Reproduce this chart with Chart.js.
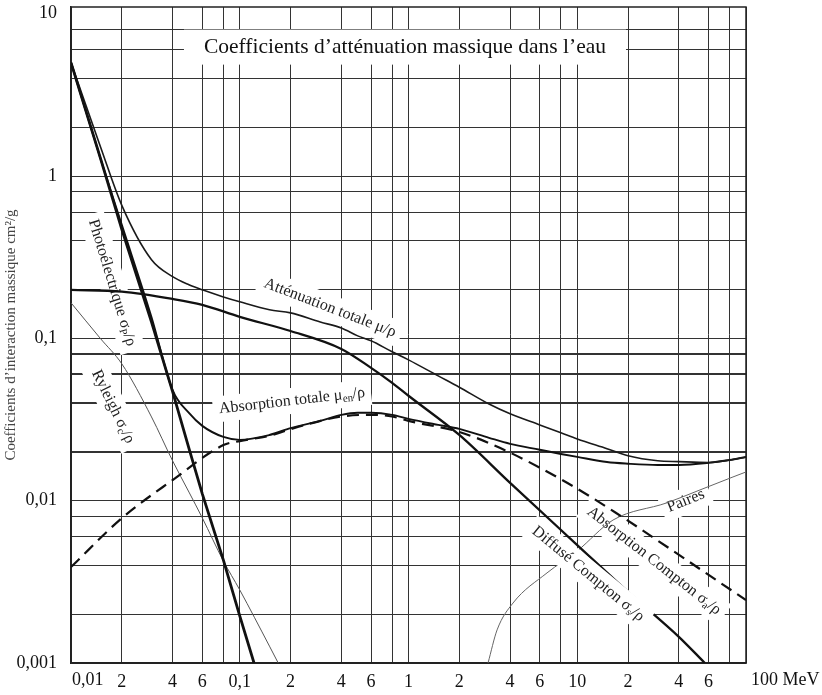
<!DOCTYPE html>
<html>
<head>
<meta charset="utf-8">
<script src="https://cdn.jsdelivr.net/npm/chart.js@4.4.0/dist/chart.umd.min.js"></script>
<style>
  body { margin: 0; background: #fff; }
</style>
</head>
<body>
<canvas id="grafico_eau" width="822" height="695"></canvas>
<script>
// Energies en MeV, coefficients en cm2/g
const ePhoto = [0.01, 0.015, 0.02, 0.03, 0.04, 0.05, 0.06, 0.08, 0.1, 0.1215]
const photo  = [5.0, 1.27, 0.47, 0.126, 0.047, 0.021, 0.011, 0.0043, 0.00195, 0.001]

const eTot = [0.01, 0.015, 0.02, 0.03, 0.04, 0.05, 0.06, 0.08, 0.1, 0.15, 0.2, 0.3, 0.4, 0.5, 0.6, 0.8, 1, 1.5, 2, 3, 4, 6, 8, 10, 15, 20, 30, 40, 60, 80, 100]
const attenuation = [5.0, 1.5, 0.66, 0.305, 0.24, 0.214, 0.199, 0.180, 0.168, 0.150, 0.1436, 0.126, 0.116, 0.1036, 0.0966, 0.0826, 0.0737, 0.0587, 0.050, 0.0394, 0.0343, 0.0293, 0.0262, 0.024, 0.0209, 0.0189, 0.0176, 0.0174, 0.0172, 0.0178, 0.0186]
const absorption  = [5.0, 1.27, 0.5, 0.135, 0.048, 0.0347, 0.0289, 0.0247, 0.0237, 0.0254, 0.028, 0.031, 0.0338, 0.0348, 0.0348, 0.0338, 0.0319, 0.0293, 0.0277, 0.0244, 0.0224, 0.0206, 0.0194, 0.0186, 0.0173, 0.0169, 0.0166, 0.0166, 0.0171, 0.0178, 0.0186]

const eAbsC = [0.01, 0.02, 0.04, 0.08, 0.1, 0.15, 0.2, 0.4, 0.6, 0.8, 1, 2, 3.5, 8.7, 17, 34, 100]
const absCompton = [0.0039, 0.0078, 0.0134, 0.022, 0.0233, 0.0251, 0.0276, 0.033, 0.0338, 0.033, 0.031, 0.0265, 0.0211, 0.0129, 0.0084, 0.0052, 0.00244]

const eDifC = [0.01, 0.02, 0.04, 0.06, 0.1, 0.2, 0.4, 0.6, 0.8, 1, 2, 4, 10, 20, 40, 57]
const difCompton = [0.199, 0.194, 0.175, 0.161, 0.1357, 0.111, 0.0861, 0.0658, 0.0532, 0.0443, 0.0254, 0.01287, 0.00533, 0.00274, 0.00145, 0.001]

const eRay = [0.01, 0.015, 0.02, 0.03, 0.04, 0.05, 0.06, 0.08, 0.1, 0.15, 0.169]
const rayleigh = [0.1656, 0.0993, 0.0697, 0.0328, 0.0176, 0.0113, 0.00783, 0.00425, 0.00282, 0.00127, 0.001]

const ePaires = [2.96, 3.35, 4.16, 6.62, 10, 16.3, 34, 53.3, 83.7, 100]
const paires  = [0.001, 0.0016, 0.00234, 0.00359, 0.0049, 0.0076, 0.0097, 0.01164, 0.014, 0.01503]

// graduations
const xTicks = [0.01, 0.02, 0.04, 0.06, 0.08, 0.1, 0.2, 0.4, 0.6, 0.8, 1, 2, 4, 6, 8, 10, 20, 40, 60, 80, 100]
const yTicks = [0.001, 0.002, 0.004, 0.006, 0.008, 0.01, 0.02, 0.04, 0.06, 0.08, 0.1, 0.2, 0.4, 0.6, 0.8, 1, 2, 4, 6, 8, 10]
const yGras = [0.02, 0.04, 0.06, 0.08]

const titre = 'Coefficients d’atténuation massique dans l’eau'
const titreAxeY = 'Coefficients d’interaction massique cm²/g'

// textes sur les courbes : [texte, energie, coef, angle, par-dessus les courbes]
const etiquettes = [
    ['Atténuation totale μ/ρ', 0.3425, 0.154, 21, false],
    ['Absorption totale μ_{en}/ρ', 0.204, 0.0412, -6.5, false],
    ['Photoélectrique σ_{P}/ρ', 0.0175, 0.22, 73, false],
    ['Ryleigh σ_{c}/ρ', 0.01775, 0.0379, 64, false],
    ['Paires', 44, 0.00997, -22, false],
    ['Absorption Compton σ_{a}/ρ', 28.5, 0.00426, 38, false],
    ['Diffusé Compton σ_{s}/ρ', 11.6, 0.00354, 39.5, true]
]

const police = "'Liberation Serif', 'DejaVu Serif', serif"

function points(xs, ys) {
    return xs.map((x, i) => ({ x: x, y: ys[i] }))
}

function etiquetteLog(v, tout) {
    const exp = Math.floor(Math.log10(v) + 1e-9)
    const m = Math.round(v / Math.pow(10, exp))
    if (m === 1) {
        if (exp < 0) return '0,' + '0'.repeat(-exp - 1) + '1'
        return String(Math.pow(10, exp))
    }
    if (!tout || m === 8) return ''
    return String(m)
}

// texte avec indices  x_{ab}
function texteRiche(ctx, str, taille) {
    const morceaux = []
    const re = /_\{([^}]*)\}/g
    let last = 0, m
    while ((m = re.exec(str)) !== null) {
        if (m.index > last) morceaux.push([str.slice(last, m.index), false])
        morceaux.push([m[1], true])
        last = re.lastIndex
    }
    if (last < str.length) morceaux.push([str.slice(last), false])
    let w = 0
    morceaux.forEach(p => {
        ctx.font = (p[1] ? taille * 0.68 : taille) + 'px ' + police
        p.push(ctx.measureText(p[0]).width)
        w += p[2]
    })
    return { morceaux, w }
}

function dessineEtiquette(chart, e) {
    const ctx = chart.ctx
    const taille = 16
    const r = texteRiche(ctx, e[0], taille)
    ctx.save()
    ctx.translate(chart.scales.x.getPixelForValue(e[1]), chart.scales.y.getPixelForValue(e[2]))
    ctx.rotate(e[3] * Math.PI / 180)
    ctx.fillStyle = '#fff'
    ctx.fillRect(-r.w / 2 - 6, -taille / 2 - 5, r.w + 12, taille + 10)
    ctx.fillStyle = '#222'
    ctx.textAlign = 'left'
    ctx.textBaseline = 'middle'
    let x = -r.w / 2
    r.morceaux.forEach(p => {
        ctx.font = (p[1] ? taille * 0.68 : taille) + 'px ' + police
        ctx.fillText(p[0], x, p[1] ? 4 : 0)
        x += p[2]
    })
    ctx.restore()
}

const decor = {
    id: 'decor',
    beforeDatasetsDraw(chart) {
        const ctx = chart.ctx
        const xs = chart.scales.x, ys = chart.scales.y
        const a = chart.chartArea
        ctx.save()
        // cadre
        ctx.strokeStyle = '#222'
        ctx.lineWidth = 1.5
        ctx.strokeRect(a.left, a.top, a.right - a.left, a.bottom - a.top)

        // titre dans un cartouche blanc
        ctx.font = '21.5px ' + police
        const tw = ctx.measureText(titre).width
        const cx = xs.getPixelForValue(0.953), cy = ys.getPixelForValue(6.27)
        ctx.fillStyle = '#fff'
        ctx.fillRect(cx - tw / 2 - 20, cy - 17, tw + 40, 35)
        ctx.fillStyle = '#111'
        ctx.textAlign = 'center'
        ctx.textBaseline = 'middle'
        ctx.fillText(titre, cx, cy + 1)

        // etiquettes des courbes (sous les courbes)
        etiquettes.filter(e => !e[4]).forEach(e => dessineEtiquette(chart, e))

        // etiquettes extremes de l'axe des energies
        ctx.font = '18px ' + police
        ctx.fillStyle = '#111'
        ctx.textAlign = 'left'
        ctx.textBaseline = 'top'
        const yt = xs.top + 8
        ctx.fillText('0,01', xs.getPixelForValue(0.01) + 1, yt)
        ctx.fillText('100 MeV', xs.getPixelForValue(100) + 5, yt)
        ctx.restore()
    },
    afterDatasetsDraw(chart) {
        etiquettes.filter(e => e[4]).forEach(e => dessineEtiquette(chart, e))
    }
}

function courbe(xs, ys, largeur, couleur, extra) {
    return Object.assign({
        data: points(xs, ys),
        showLine: true,
        borderColor: couleur,
        borderWidth: largeur,
        pointRadius: 0,
        fill: false,
        cubicInterpolationMode: 'monotone'
    }, extra || {})
}

function sansMarge(s) {
    s.paddingTop = 0
    s.paddingBottom = 0
    s.paddingLeft = 0
    s.paddingRight = 0
}

const data = {
    datasets: [
        courbe(ePhoto, photo, 2.8, '#111', { tension: 0, cubicInterpolationMode: 'default' }),
        courbe(eTot, attenuation, 1.6, '#1a1a1a'),
        courbe(eTot, absorption, 1.9, '#111'),
        courbe(eAbsC, absCompton, 2.2, '#111', { borderDash: [12, 7] }),
        courbe(eDifC, difCompton, 2.3, '#111'),
        courbe(eRay, rayleigh, 1, '#555'),
        courbe(ePaires, paires, 1, '#666')
    ]
}

const options = {
    responsive: false,
    animation: false,
    layout: { padding: { top: 7, right: 76, left: 0, bottom: 0 } },
    plugins: {
        legend: { display: false },
        tooltip: { enabled: false }
    },
    scales: {
        x: {
            type: 'logarithmic',
            min: 0.01,
            max: 100,
            afterBuildTicks: s => { s.ticks = xTicks.map(v => ({ value: v })) },
            afterFit: s => { s.height = 32; sansMarge(s) },
            grid: { color: '#333', lineWidth: 1, drawTicks: false },
            border: { color: '#222', width: 1.5 },
            ticks: {
                autoSkip: false,
                maxRotation: 0,
                padding: 8,
                color: '#111',
                font: { family: police, size: 18 },
                callback: v => (v === 0.01 || v === 100) ? '' : etiquetteLog(v, true)
            }
        },
        y: {
            type: 'logarithmic',
            min: 0.001,
            max: 11,
            afterBuildTicks: s => { s.ticks = yTicks.map(v => ({ value: v })) },
            afterFit: s => { s.width = 71; sansMarge(s) },
            grid: {
                drawTicks: false,
                color: c => (c.tick && c.tick.value === 10) ? 'rgba(0,0,0,0)' : '#333',
                lineWidth: c => (c.tick && yGras.includes(c.tick.value)) ? 2 : 1
            },
            border: { color: '#222', width: 1.5 },
            ticks: {
                autoSkip: false,
                padding: 14,
                color: '#111',
                font: { family: police, size: 18 },
                callback: v => etiquetteLog(v, false)
            },
            title: {
                display: true,
                text: titreAxeY,
                color: '#444',
                font: { family: police, size: 15 },
                padding: { top: 2, bottom: 0 }
            }
        }
    }
}

const ctx = document.getElementById('grafico_eau').getContext('2d')
const grafico = new Chart(ctx, { type: 'scatter', data, options, plugins: [decor] })
</script>
</body>
</html>
